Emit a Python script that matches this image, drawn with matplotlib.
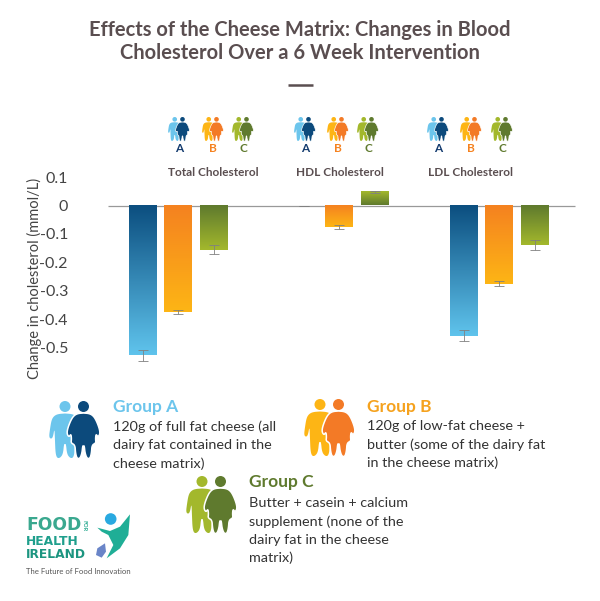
"""Cheese matrix infographic: bars with gradient fills, people icons and legend."""
import matplotlib
matplotlib.use('Agg')
import numpy as np
import matplotlib.pyplot as plt
from matplotlib.colors import LinearSegmentedColormap
from matplotlib.patches import Circle, Polygon

plt.rcParams['font.family'] = ['Lato', 'DejaVu Sans']

measures = ['Total Cholesterol', 'HDL Cholesterol', 'LDL Cholesterol']
groups = ['A', 'B', 'C']
change_a = [-0.528, 0.0, -0.458]
change_b = [-0.375, -0.075, -0.275]
change_c = [-0.155, 0.048, -0.14]
err_a = [0.02, 0.0, 0.02]
err_b = [0.007, 0.007, 0.008]
err_c = [0.015, 0.003, 0.018]
y_ticks = [0.1, 0, -0.1, -0.2, -0.3, -0.4, -0.5]
y_tick_labels = ['0.1', '0', '-0.1', '-0.2', '-0.3', '-0.4', '-0.5']

title_lines = ['Effects of the Cheese Matrix: Changes in Blood',
               'Cholesterol Over a 6 Week Intervention']
text_a = ['120g of full fat cheese (all', 'dairy fat contained in the', 'cheese matrix)']
text_b = ['120g of low-fat cheese +', 'butter (some of the dairy fat', 'in the cheese matrix)']
text_c = ['Butter + casein + calcium', 'supplement (none of the', 'dairy fat in the cheese', 'matrix)']

DARK = '#5a4e50'
W, H = 600, 601
# (colour at baseline, colour at bar end)
BAR_GRAD = {'A': ('#0c4f80', '#5fc3ec'), 'B': ('#f58220', '#fdb515'), 'C': ('#5f7a2e', '#a3b82c')}
# (slim person, large person, letter colour)
ICON = {'A': ('#6cc5ec', '#0c4a7c', '#123a6e'),
        'B': ('#fdb515', '#f37a26', '#f58220'),
        'C': ('#a3b82c', '#5f7a2e', '#5f7a2e')}

# half outlines of the two people, (offset from centre line, y) in icon units
SLIM_HALF = [(0, 12.5), (7, 13), (11, 15), (13.5, 19), (15, 28), (16, 36), (14, 38), (12, 36),
             (10.5, 27), (10, 40), (9.5, 52), (8, 57), (5, 57), (2, 53), (1, 43), (0, 43)]
LARGE_HALF = [(0, 12), (6, 12.5), (10, 15), (13, 20), (16, 28), (16.5, 33), (14.5, 36), (12.5, 33),
              (12, 38), (12.5, 42), (8.5, 44), (8, 52), (6.5, 57.5), (3.5, 57.5), (1.5, 52), (0.8, 45), (0, 45)]


fig = plt.figure(figsize=(W / 100, H / 100), dpi=100, facecolor='white')

# pixel canvas for everything that isn't the chart
bg = fig.add_axes([0, 0, 1, 1])
bg.set_xlim(0, W)
bg.set_ylim(H, 0)
bg.axis('off')


def px_axes(x0, y0, x1, y1):
    return fig.add_axes([x0 / W, 1 - y1 / H, (x1 - x0) / W, (y1 - y0) / H])


def smooth(points, rounds=2):
    # corner cutting, keeps the outlines from looking polygonal
    pts = np.asarray(points, dtype=float)
    for _ in range(rounds):
        nxt = np.roll(pts, -1, axis=0)
        pts = np.column_stack([0.75 * pts + 0.25 * nxt, 0.25 * pts + 0.75 * nxt]).reshape(-1, 2)
    return pts


def body_outline(half, cx, left, top, scale):
    half = np.array(half, dtype=float)
    mirrored = half[::-1] * [-1, 1]
    pts = smooth(np.vstack([half, mirrored]))
    return np.column_stack([left + (cx + pts[:, 0]) * scale, top + pts[:, 1] * scale])


def draw_people(ax, left, top, scale, key):
    """Two overlapping people, icon space is about 51 wide by 58 tall."""
    slim, large, _ = ICON[key]
    ax.add_patch(Circle((left + 16 * scale, top + 5.5 * scale), 5.5 * scale, fc=slim, ec='none', zorder=3))
    ax.add_patch(Polygon(body_outline(SLIM_HALF, 16, left, top, scale), closed=True, fc=slim, ec='none', zorder=3))
    # white halo keeps the two apart
    ax.add_patch(Polygon(body_outline(LARGE_HALF, 34.5, left, top, scale), closed=True,
                         fc=large, ec='white', lw=1.1 * scale, zorder=4))
    ax.add_patch(Circle((left + 34.5 * scale, top + 5.5 * scale), 5.5 * scale, fc=large, ec='none', zorder=5))


# title
for line, y in zip(title_lines, (30, 53)):
    bg.text(300, y, line, ha='center', va='center', fontsize=14.5, fontweight='bold', color=DARK)
bg.plot([288, 313], [84.5, 84.5], color=DARK, lw=1.8, solid_capstyle='butt')

# chart, x runs in pixels so the tick labels sit right against the left edge
ax = px_axes(68, 162, 585, 375)
ax.set_xlim(68, 585)
ax.set_ylim((205.5 - 375) / 284, (205.5 - 162) / 284)
ax.patch.set_alpha(0)
for s in ax.spines.values():
    s.set_visible(False)
ax.set_xticks([])
ax.set_yticks(y_ticks)
ax.set_yticklabels(y_tick_labels, fontsize=11.5, color='#444444')
ax.tick_params(axis='y', length=0, pad=0)
ax.set_ylabel('Change in cholesterol (mmol/L)', fontsize=10.5, color='#444444')
ax.yaxis.set_label_coords((42 - 68) / 517, (375 - 278) / 213)

centers = np.array([178, 339, 499])
step = 35.5
bar_w = 28
lims = ax.get_xlim(), ax.get_ylim()
for i, (key, vals, errs) in enumerate(zip(groups, (change_a, change_b, change_c), (err_a, err_b, err_c))):
    xs = centers + (i - 1) * step
    bars = ax.bar(xs, vals, bar_w, color='none', zorder=2)
    cmap = LinearSegmentedColormap.from_list(key, BAR_GRAD[key])
    for bar, v in zip(bars, vals):
        if v == 0:
            continue
        x0 = bar.get_x()
        # always dark at the baseline, light at the far end of the bar
        ramp = np.linspace(0, 1, 64).reshape(-1, 1)
        ax.imshow(ramp, cmap=cmap, aspect='auto', origin='lower',
                  extent=(x0, x0 + bar_w, 0, v), zorder=2, interpolation='bilinear')
    ax.errorbar(xs, vals, yerr=errs, fmt='none', ecolor='#808080', elinewidth=0.6,
                capsize=3.5, capthick=0.6, zorder=3)
ax.set_xlim(lims[0])
ax.set_ylim(lims[1])
ax.hlines(0, 108, 575, color='#999999', lw=0.9, zorder=1)

# small icons over each measure
icon_lefts = {'Total Cholesterol': (168, 202, 232),
              'HDL Cholesterol': (294, 327, 357),
              'LDL Cholesterol': (427, 460, 491)}
label_x = (213, 340, 470)
for name, lx in zip(measures, label_x):
    for key, left in zip(groups, icon_lefts[name]):
        draw_people(bg, left, 117, 0.42, key)
        bg.text(left + 11, 149, key, ha='center', va='center', fontsize=8.5,
                fontweight='bold', color=ICON[key][2])
    bg.text(lx, 172.5, name, ha='center', va='center', fontsize=8.45, fontweight='bold', color=DARK)

# legend blocks
draw_people(bg, 49, 401, 1, 'A')
draw_people(bg, 304, 399, 1, 'B')
draw_people(bg, 186, 476, 1, 'C')
legend = [('Group A', 113, 407, '#6cc5ec', text_a, 427),
          ('Group B', 367, 407, '#f5a21e', text_b, 426),
          ('Group C', 249, 482, '#5f7a2e', text_c, 503)]
for head, x, y, colour, lines, y0 in legend:
    bg.text(x, y, head, ha='left', va='center', fontsize=12.5, fontweight='bold', color=colour)
    for j, line in enumerate(lines):
        bg.text(x, y0 + j * 18.3, line, ha='left', va='center', fontsize=10.4, color='#333333')

# logo
for word, y, size, c in (('FOOD', 525.5, 12.3, '#3aa88f'), ('HEALTH', 541.5, 8.8, '#1f9f8c'),
                         ('IRELAND', 554.5, 8.8, '#1c9580')):
    bg.text(26, y, word, ha='left', va='center', fontsize=size, fontweight='bold',
            family='DejaVu Sans', color=c)
bg.text(84, 526, 'FOR', rotation=270, ha='center', va='center', fontsize=4, fontweight='bold', color='#27a98f')
bg.add_patch(Circle((110.7, 519), 5.8, fc='#29a9e0', ec='none'))
swoosh_zoom = [(232, 68), (270, 78), (300, 65), (330, 28), (325, 90), (300, 130), (260, 160), (280, 120), (265, 90), (245, 80)]
drop_zoom = [(255, 115), (258, 140), (245, 158), (228, 150), (232, 130)]
bg.add_patch(Polygon([(20 + zx / 3, 505 + zy / 3) for zx, zy in swoosh_zoom], closed=True, fc='#1fae96', ec='none'))
bg.add_patch(Polygon([(20 + zx / 3, 505 + zy / 3) for zx, zy in drop_zoom], closed=True, fc='#6a85c8', ec='none'))
bg.text(26, 572, 'The Future of Food Innovation', ha='left', va='center', fontsize=5.6, color='#555555')

fig.savefig('out.png', dpi=100, facecolor='white')
